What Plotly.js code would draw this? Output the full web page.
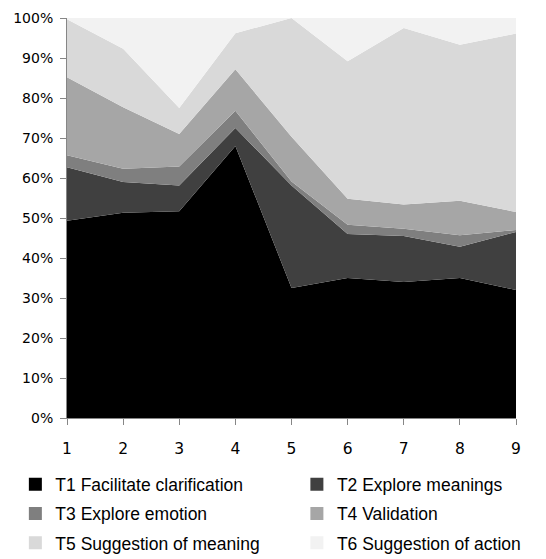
<!DOCTYPE html>
<html>
<head>
<meta charset="utf-8">
<script src="https://cdn.plot.ly/plotly-3.0.1.min.js"></script>
<style>html,body{margin:0;padding:0;background:#fff;}#chart{width:546px;height:559px;}</style>
</head>
<body>
<div id="chart"></div>
<script>
// Sessions (x categories)
var sessions = [1, 2, 3, 4, 5, 6, 7, 8, 9];

// Series names and colours
var seriesNames = [
  "T1 Facilitate clarification",
  "T2 Explore meanings",
  "T3 Explore emotion",
  "T4 Validation",
  "T5 Suggestion of meaning",
  "T6 Suggestion of action"
];
var seriesColors = ["#000000", "#404040", "#7f7f7f", "#a6a6a6", "#d9d9d9", "#f2f2f2"];

// Percentage share of each type per session
var t1 = [49.3, 51.3, 51.7, 68.0, 32.5, 35.0, 34.0, 35.0, 32.0];
var t2 = [13.4, 7.7, 6.4, 4.5, 25.6, 11.0, 11.5, 7.8, 14.5];
var t3 = [3.0, 3.3, 4.8, 4.3, 1.0, 2.3, 1.8, 2.9, 0.5];
var t4 = [19.5, 15.4, 8.1, 10.4, 11.2, 6.5, 6.1, 8.6, 4.5];
var t5 = [14.5, 14.6, 6.5, 9.0, 29.7, 34.4, 44.1, 39.0, 44.6];
var t6 = [0.3, 7.7, 22.5, 3.8, 0.0, 10.8, 2.5, 6.7, 3.9];

var yTickVals = [0, 10, 20, 30, 40, 50, 60, 70, 80, 90, 100];

var seriesValues = [t1, t2, t3, t4, t5, t6];
var traces = [];
seriesValues.forEach(function (vals, i) {
  traces.push({
    type: "scatter",
    x: sessions,
    y: vals,
    name: seriesNames[i],
    stackgroup: "one",
    mode: "lines",
    line: {width: 0, color: seriesColors[i]},
    fillcolor: seriesColors[i],
    showlegend: false,
    hoverinfo: "x+y+name"
  });
});
// legend entries (square markers), two columns: odd series left, even series right
seriesNames.forEach(function (n, i) {
  traces.push({
    type: "scatter",
    x: [null],
    y: [null],
    name: n,
    mode: "markers",
    marker: {symbol: "square", size: 13, color: seriesColors[i]},
    showlegend: true,
    legend: (i % 2 === 0) ? "legend" : "legend2",
    legendgroup: "g" + i,
    hoverinfo: "skip"
  });
});

var axisCol = "#868686";
var legendFont = {family: "Liberation Sans, Arial, sans-serif", size: 17.5, color: "#000"};
var layout = {
  width: 546,
  height: 559,
  margin: {l: 67, r: 30, t: 18, b: 141, pad: 0, autoexpand: false},
  paper_bgcolor: "#ffffff",
  plot_bgcolor: "#ffffff",
  showlegend: true,
  font: {family: "DejaVu Sans, sans-serif", size: 14, color: "#000000"},
  xaxis: {
    range: [1, 9],
    tickmode: "array",
    tickvals: sessions,
    ticktext: sessions.map(String),
    showgrid: false,
    zeroline: false,
    showline: true,
    linecolor: axisCol,
    linewidth: 1,
    ticks: "outside",
    ticklen: 6,
    tickcolor: axisCol,
    ticklabelstandoff: 10,
    tickfont: {family: "DejaVu Sans, sans-serif", size: 15.5, color: "#000"}
  },
  yaxis: {
    range: [0, 100],
    tickmode: "array",
    tickvals: yTickVals,
    ticktext: yTickVals.map(function (v) { return v + "%"; }),
    showgrid: false,
    zeroline: false,
    showline: true,
    linecolor: axisCol,
    linewidth: 1,
    ticks: "outside",
    ticklen: 6,
    tickcolor: axisCol,
    ticklabelstandoff: 4,
    tickfont: {family: "DejaVu Sans, sans-serif", size: 14, color: "#000"}
  },
  legend: {
    orientation: "v",
    x: -0.115,
    xanchor: "left",
    y: -0.121,
    yanchor: "top",
    itemwidth: 30,
    tracegroupgap: 3.5,
    bgcolor: "rgba(0,0,0,0)",
    borderwidth: 0,
    font: legendFont,
    traceorder: "grouped"
  },
  legend2: {
    orientation: "v",
    x: 0.512,
    xanchor: "left",
    y: -0.121,
    yanchor: "top",
    itemwidth: 30,
    tracegroupgap: 3.5,
    bgcolor: "rgba(0,0,0,0)",
    borderwidth: 0,
    font: legendFont,
    traceorder: "grouped"
  }
};

Plotly.newPlot("chart", traces, layout, {displayModeBar: false, staticPlot: true});
</script>
</body>
</html>
